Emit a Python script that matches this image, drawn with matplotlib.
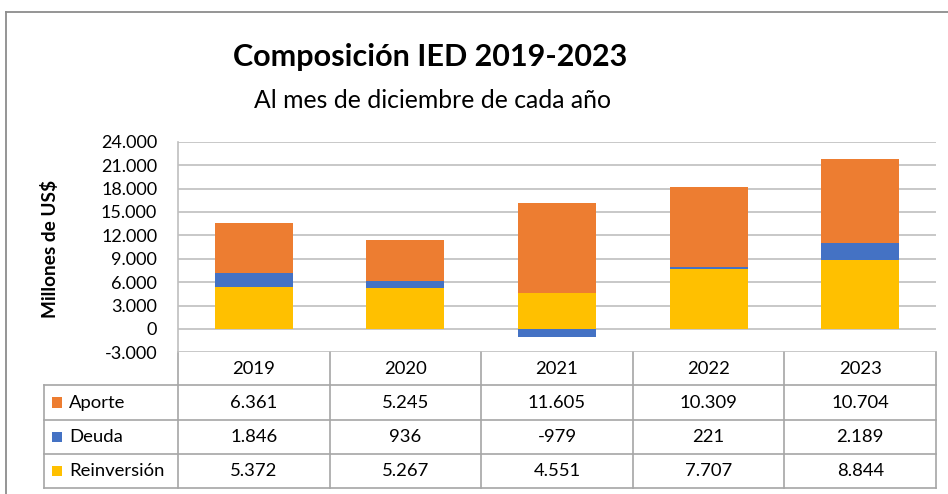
import matplotlib
matplotlib.use("Agg")
import matplotlib.pyplot as plt
import matplotlib.transforms as mtransforms
from matplotlib.patches import Rectangle
import numpy as np

plt.rcParams['font.family'] = ['Lato', 'DejaVu Sans']

years = ["2019", "2020", "2021", "2022", "2023"]
aporte = [6361, 5245, 11605, 10309, 10704]
deuda = [1846, 936, -979, 221, 2189]
reinversion = [5372, 5267, 4551, 7707, 8844]
series_names = ["Aporte", "Deuda", "Reinversión"]
colors = {"Aporte": "#ED7D31", "Deuda": "#4472C4", "Reinversión": "#FFC000"}
yticks = [-3000, 0, 3000, 6000, 9000, 12000, 15000, 18000, 21000, 24000]

def fmt(v):
    s = f"{abs(v):,}".replace(",", ".")
    return ("-" if v < 0 else "") + s

W, H = 948, 494
fig = plt.figure(figsize=(W / 100, H / 100), dpi=100)

# main axes
x0, x1 = 178, 936
yt, yb = 141.7, 352.4
ax = fig.add_axes([x0 / W, 1 - yb / H, (x1 - x0) / W, (yb - yt) / H])
ax.set_xlim(-0.5, 4.5)
ax.set_ylim(-3000, 24000)

x = np.arange(len(years))
pos_bottom = np.zeros(len(years))
neg_bottom = np.zeros(len(years))
for name, vals in [("Reinversión", reinversion), ("Deuda", deuda), ("Aporte", aporte)]:
    vals = np.array(vals, dtype=float)
    bottoms = np.where(vals >= 0, pos_bottom, neg_bottom)
    ax.bar(x, vals, bottom=bottoms, width=0.515, color=colors[name], zorder=3, linewidth=0)
    pos_bottom = pos_bottom + np.where(vals >= 0, vals, 0)
    neg_bottom = neg_bottom + np.where(vals < 0, vals, 0)

ax.set_yticks(yticks)
ax.set_yticklabels([fmt(v) for v in yticks], fontsize=13, color="black")
ax.set_xticks([])
ax.tick_params(axis='y', length=0, pad=15)
for v in yticks:
    ax.axhline(v, color="#BFBFBF", lw=1.2, zorder=1)
for s in ["top", "right", "bottom"]:
    ax.spines[s].set_visible(False)
ax.spines["left"].set_color("#BFBFBF")
ax.spines["left"].set_linewidth(1.2)
ax.set_facecolor("none")

fig.text(50 / W, 1 - 249 / H, "Millones de US$", rotation=90, fontsize=13.7,
         fontweight="bold", ha="center", va="center")

# overlay in pixel coordinates
ov = fig.add_axes([0, 0, 1, 1])
ov.set_xlim(0, W)
ov.set_ylim(H, 0)
ov.axis("off")
ov.set_zorder(-1)
bt = mtransforms.blended_transform_factory(ax.transData, ov.transData)

lc = "#A6A6A6"
# frame
ov.plot([6.5, W], [12.5, 12.5], color="#8C8C8C", lw=1.3)
ov.plot([6.5, 6.5], [12.5, H], color="#8C8C8C", lw=1.3)

# table
hdr_top = yb
edges = [385, 420, 454, 488]
for yy in edges:
    ov.plot([44, x1], [yy, yy], color=lc, lw=1.2)
ov.plot([44, 44], [edges[0], edges[-1]], color=lc, lw=1.2)
for i in range(len(years) + 1):
    ov.plot([i - 0.5, i - 0.5], [hdr_top, edges[-1]], color=lc, lw=1.2, transform=bt)

for i, yr in enumerate(years):
    ov.text(i, (hdr_top + edges[0]) / 2, yr, ha="center", va="center", fontsize=13.3, transform=bt)

rows = [("Aporte", aporte), ("Deuda", deuda), ("Reinversión", reinversion)]
for r, (name, vals) in enumerate(rows):
    yc = (edges[r] + edges[r + 1]) / 2
    ov.add_patch(Rectangle((52, yc - 5.5), 10.5, 10.5, color=colors[name], lw=0))
    ov.text(69, yc, name, ha="left", va="center", fontsize=13.3)
    for i, v in enumerate(vals):
        ov.text(i, yc, fmt(v), ha="center", va="center", fontsize=13.3, transform=bt)

fig.text(430 / W, 1 - 57 / H, "Composición IED 2019-2023", ha="center", va="center",
         fontsize=22, fontweight="bold")
fig.text(432 / W, 1 - 100 / H, "Al mes de diciembre de cada año", ha="center", va="center",
         fontsize=17.8)

fig.savefig("out.png", dpi=100)
